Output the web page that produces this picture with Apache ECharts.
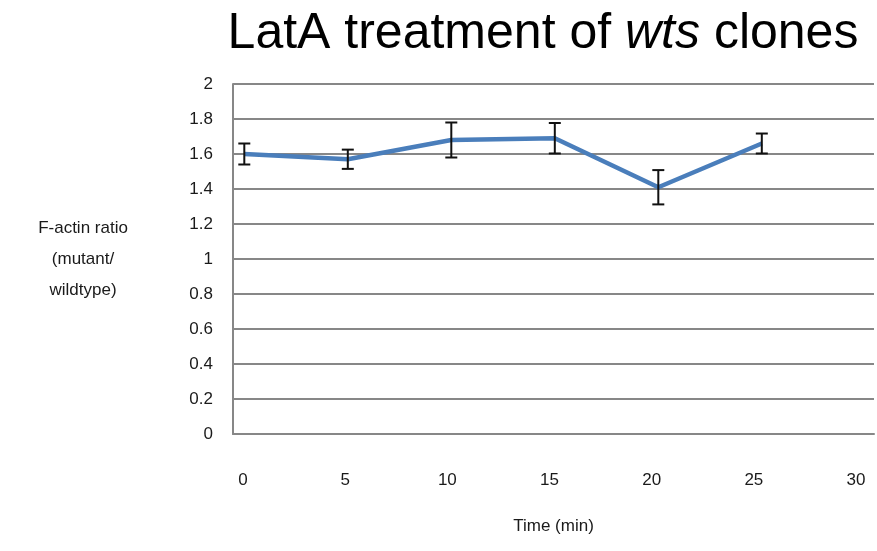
<!DOCTYPE html>
<html>
<head>
<meta charset="utf-8">
<script src="https://cdn.jsdelivr.net/npm/echarts@6/dist/echarts.min.js"></script>
<style>
html,body{margin:0;padding:0;background:#fff;}
#chart{width:877px;height:551px;}
</style>
</head>
<body>
<div id="chart"></div>
<script>
const times = [0, 5, 10, 15, 20, 25];
const ratios = [1.60, 1.57, 1.68, 1.69, 1.41, 1.66];
const errors = [0.06, 0.055, 0.10, 0.087, 0.098, 0.057];
const xTicks = [0, 5, 10, 15, 20, 25, 30];
const yTicks = [0, 0.2, 0.4, 0.6, 0.8, 1, 1.2, 1.4, 1.6, 1.8, 2];

const chart = echarts.init(document.getElementById('chart'));
const FONT = '"Liberation Sans", Arial, sans-serif';
const TXT = '#1a1a1a';

const lineData = times.map((t, i) => [t, ratios[i]]);
const errData = times.map((t, i) => [t, ratios[i] - errors[i], ratios[i] + errors[i]]);

chart.setOption({
  animation: false,
  backgroundColor: '#fff',
  title: {
    text: '{n|LatA treatment of }{i|wts}{n| clones}',
    left: 538,
    top: 4,
    textAlign: 'center',
    textStyle: {
      fontWeight: 'normal',
      rich: {
        n: { fontFamily: FONT, fontSize: 50, color: '#000', fontWeight: 'normal' },
        i: { fontFamily: FONT, fontSize: 50, color: '#000', fontWeight: 'normal', fontStyle: 'italic' }
      }
    }
  },
  grid: { left: 233, right: 3, top: 84, bottom: 117, containLabel: false },
  xAxis: [
    {
      type: 'value',
      min: -0.546,
      max: 30.42,
      axisLine: { show: true, onZero: false, lineStyle: { color: '#878787', width: 2 } },
      axisTick: { show: false },
      splitLine: { show: false },
      axisLabel: { show: false }
    },
    {
      type: 'value',
      position: 'bottom',
      min: -0.489,
      max: 30.88,
      name: 'Time (min)',
      nameLocation: 'middle',
      nameGap: 84,
      nameTextStyle: { fontFamily: FONT, fontSize: 17, color: TXT },
      axisLine: { show: false, onZero: false },
      axisTick: { show: false },
      splitLine: { show: false },
      axisLabel: {
        customValues: xTicks,
        margin: 38,
        fontFamily: FONT, fontSize: 17, color: TXT
      }
    }
  ],
  yAxis: {
    type: 'value',
    min: 0,
    max: 2,
    interval: 0.2,
    name: 'F-actin ratio\n(mutant/\nwildtype)',
    nameLocation: 'middle',
    nameRotate: 0,
    nameGap: 150,
    nameTextStyle: { fontFamily: FONT, fontSize: 17, color: TXT, align: 'center', verticalAlign: 'middle', lineHeight: 31 },
    axisLine: { show: true, onZero: false, lineStyle: { color: '#878787', width: 2 } },
    axisTick: { show: false },
    splitLine: { show: true, lineStyle: { color: '#878787', width: 2 } },
    axisLabel: {
      margin: 20,
      fontFamily: FONT, fontSize: 17, color: TXT,
      formatter: v => String(Math.round(v * 10) / 10)
    }
  },
  series: [
    {
      type: 'line',
      xAxisIndex: 0,
      data: lineData,
      symbol: 'none',
      lineStyle: { color: '#4a7ebb', width: 4.5 },
      z: 2
    },
    {
      type: 'custom',
      xAxisIndex: 0,
      data: errData,
      z: 3,
      renderItem: function (params, api) {
        const x = api.value(0);
        const lo = api.coord([x, api.value(1)]);
        const hi = api.coord([x, api.value(2)]);
        const hw = 6;
        const style = { stroke: '#111', lineWidth: 2 };
        return {
          type: 'group',
          children: [
            { type: 'line', shape: { x1: lo[0], y1: lo[1], x2: hi[0], y2: hi[1] }, style },
            { type: 'line', shape: { x1: lo[0] - hw, y1: lo[1], x2: lo[0] + hw, y2: lo[1] }, style },
            { type: 'line', shape: { x1: hi[0] - hw, y1: hi[1], x2: hi[0] + hw, y2: hi[1] }, style }
          ]
        };
      }
    }
  ]
});
</script>
</body>
</html>
